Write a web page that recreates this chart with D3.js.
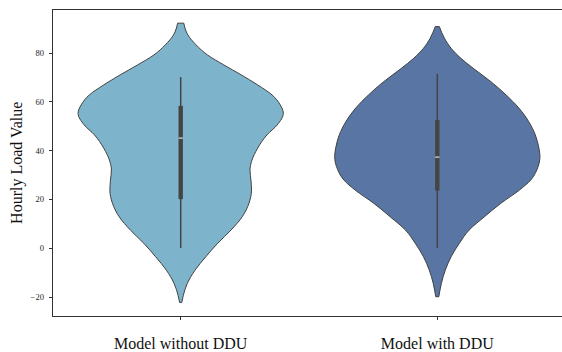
<!DOCTYPE html>
<html lang="en">
<head>
<meta charset="UTF-8">
<title>Hourly load violins</title>
<script src="https://d3js.org/d3.v7.min.js"></script>
<style>
  body { margin: 0; background: #fff; }
  svg { display: block; font-family: "Liberation Serif", "Times New Roman", serif; }
  .axis { color: #333; }
  .axis path, .axis line { stroke: #333; stroke-width: 1; shape-rendering: crispEdges; }
  .axis text { font-family: "Liberation Serif", "Times New Roman", serif; fill: #262626; }
  .y-axis text { font-size: 8.5px; }
  .x-axis text { font-size: 16px; fill: #111; }
</style>
</head>
<body>
<svg width="562" height="352"></svg>
<script>
  // categories and colours
  let categories = ["Model without DDU", "Model with DDU"];
  let fills = ["#7eb4cb", "#5875a4"];

  // violin outlines: load value and relative half width
  let values1  = [92.1, 87.3, 83.2, 79.1, 75.0, 70.9, 66.8, 62.7, 58.6, 55.2, 50.4, 46.3, 40.9, 35.4, 31.9, 27.5, 23.7, 18.3, 12.8, 7.3, 1.9, -3.6, -9.1, -14.5, -19.5, -22.4];
  let density1 = [0.03, 0.07, 0.15, 0.26, 0.42, 0.59, 0.75, 0.89, 0.97, 1.00, 0.94, 0.84, 0.75, 0.69, 0.675, 0.685, 0.69, 0.665, 0.60, 0.49, 0.36, 0.245, 0.14, 0.065, 0.025, 0.01];

  let values2  = [90.7, 85.9, 81.8, 77.7, 73.6, 68.2, 62.7, 57.3, 51.8, 46.3, 40.9, 37.5, 32.0, 27.8, 23.7, 18.3, 12.8, 7.3, 1.9, -3.6, -9.1, -14.5, -20.0];
  let density2 = [0.02, 0.07, 0.135, 0.23, 0.35, 0.52, 0.67, 0.795, 0.89, 0.955, 0.99, 1.00, 0.97, 0.91, 0.80, 0.62, 0.46, 0.31, 0.215, 0.135, 0.078, 0.04, 0.015];

  // inner box statistics
  let whiskerLow  = [0, 0];
  let q1          = [20.0, 23.5];
  let medians     = [45.0, 37.2];
  let q3          = [58.2, 52.4];
  let whiskerHigh = [70.0, 71.3];

  let yTicks = [-20, 0, 20, 40, 60, 80];

  let margin = { top: 9.5, right: -3.6, bottom: 36, left: 52.4 };
  let width = 562 - margin.left - margin.right;
  let height = 352 - margin.top - margin.bottom;

  let svg = d3.select("svg")
      .append("g")
      .attr("transform", `translate(${margin.left},${margin.top})`);

  let x = d3.scaleBand()
      .domain(categories)
      .range([0, width])
      .padding(0);

  let y = d3.scaleLinear()
      .domain([-27.9, 97.7])
      .range([height, 0]);

  let halfWidth = x.bandwidth() * 0.4;

  let profiles = [
      values1.map((v, i) => ({ v: v, d: density1[i] })),
      values2.map((v, i) => ({ v: v, d: density2[i] }))
  ];

  let violins = svg.append("g").attr("class", "violins");

  categories.forEach((cat, i) => {
      let cx = x(cat) + x.bandwidth() / 2;
      let area = d3.area()
          .y(d => y(d.v))
          .x0(d => cx - d.d * halfWidth)
          .x1(d => cx + d.d * halfWidth)
          .curve(d3.curveMonotoneY);

      violins.append("path")
          .datum(profiles[i])
          .attr("d", area)
          .attr("fill", fills[i])
          .attr("stroke", "#404040")
          .attr("stroke-width", 1);

      // whisker
      violins.append("line")
          .attr("x1", cx).attr("x2", cx)
          .attr("y1", y(whiskerLow[i])).attr("y2", y(whiskerHigh[i]))
          .attr("stroke", "#444")
          .attr("stroke-width", 1.5);

      // box
      violins.append("rect")
          .attr("x", cx - 2.2)
          .attr("width", 4.4)
          .attr("y", y(q3[i]))
          .attr("height", y(q1[i]) - y(q3[i]))
          .attr("fill", "#444");

      // median
      violins.append("line")
          .attr("x1", cx - 2.2).attr("x2", cx + 2.2)
          .attr("y1", y(medians[i])).attr("y2", y(medians[i]))
          .attr("stroke", "#d0d0d0")
          .attr("stroke-width", 1.3);
  });

  // frame: left, bottom, top (right one falls outside the picture)
  svg.append("line")
      .attr("x1", 0).attr("x2", width)
      .attr("y1", 0).attr("y2", 0)
      .attr("stroke", "#333").attr("stroke-width", 1)
      .attr("shape-rendering", "crispEdges");

  let yAxis = d3.axisLeft(y)
      .tickValues(yTicks)
      .tickSize(3.5)
      .tickPadding(5);

  let xAxis = d3.axisBottom(x)
      .tickSize(3.5)
      .tickPadding(18);

  svg.append("g")
      .attr("class", "axis y-axis")
      .call(yAxis)
      .call(g => g.select(".domain").attr("d", `M0,${height}V0`));

  svg.append("g")
      .attr("class", "axis x-axis")
      .attr("transform", `translate(0,${height})`)
      .call(xAxis)
      .call(g => g.select(".domain").attr("d", `M0,0H${width}`));

  svg.append("text")
      .attr("transform", `translate(${22 - margin.left},${height / 2}) rotate(-90)`)
      .attr("text-anchor", "middle")
      .attr("font-size", "16px")
      .attr("fill", "#111")
      .text("Hourly Load Value");
</script>
</body>
</html>
